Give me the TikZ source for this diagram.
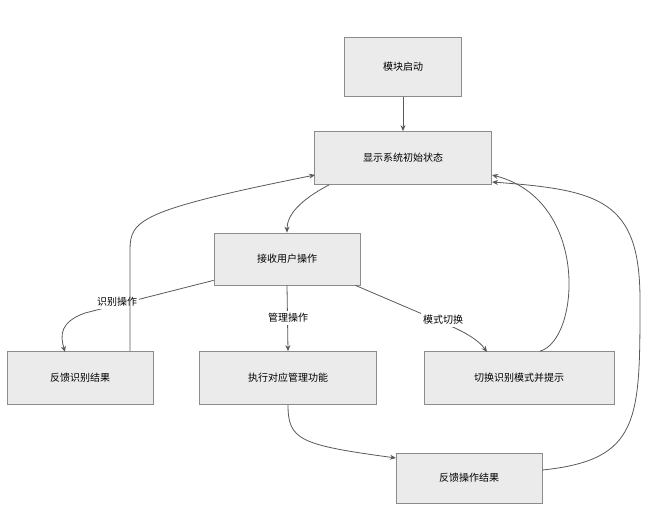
\documentclass[tikz,border=0pt]{standalone}
\usepackage{fontspec}
\setmainfont{Noto Sans CJK SC}
\usetikzlibrary{arrows.meta}
\begin{document}
\begin{tikzpicture}[x=1pt,y=-1pt,
  box/.style={draw=black!45,fill=black!8,line width=0.7pt,font=\fontsize{10}{12}\selectfont},
  arr/.style={draw=black!65,line width=0.8pt,-{Stealth[length=6pt,width=5pt]}},
  lab/.style={fill=white,inner sep=2pt,font=\fontsize{10}{12}\selectfont}]
\useasboundingbox (0,0) rectangle (669,519);
\node[box,minimum width=117pt,minimum height=59pt] (a) at (403,67) {模块启动};
\node[box,minimum width=177pt,minimum height=53pt] (b) at (403,158) {显示系统初始状态};
\node[box,minimum width=146pt,minimum height=52pt] (c) at (287,259) {接收用户操作};
\node[box,minimum width=146pt,minimum height=53pt] (d) at (80,378) {反馈识别结果};
\node[box,minimum width=177pt,minimum height=53pt] (e) at (288,378) {执行对应管理功能};
\node[box,minimum width=190pt,minimum height=53pt] (f) at (519,378) {切换识别模式并提示};
\node[box,minimum width=146pt,minimum height=50pt] (g) at (469,478) {反馈操作结果};
\draw[arr] (a) -- (b);
\draw[arr] (b.south west)++(15,0) .. controls (300,200) and (287,215) .. (c.north);
\draw[arr] (c.south west)++(0,-5) -- (85,313) .. controls (60,322) and (60,335) .. (65,352);
\node[lab] at (117,302) {识别操作};
\draw[arr] (c.south) -- (e.north);
\node[lab] at (288,318) {管理操作};
\draw[arr] (c.south east)++(-5,0) -- (455,328) .. controls (470,335) and (480,342) .. (487,352);
\node[lab] at (443,320) {模式切换};
\draw[arr] (d.north)++(50,0) -- (130,250) .. controls (130,220) and (140,210) .. (315,175);
\draw[arr] (e.south) .. controls (288,440) and (300,445) .. (396,458);
\draw[arr] (f.north)++(21,0) .. controls (580,340) and (590,200) .. (492,175);
\draw[arr] (g.east)++(0,-8) .. controls (640,460) and (640,420) .. (640,300) .. controls (640,200) and (600,190) .. (492,182);
\end{tikzpicture}
\end{document}
